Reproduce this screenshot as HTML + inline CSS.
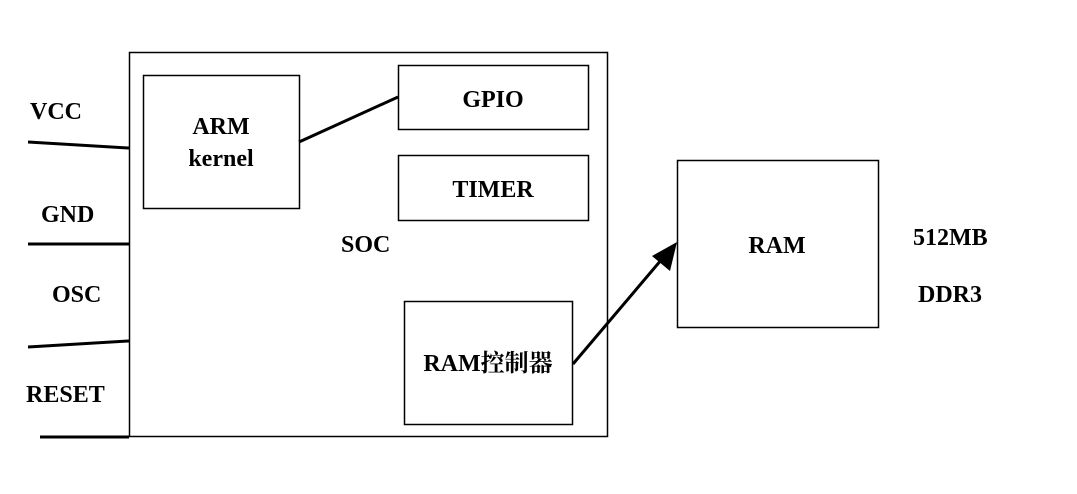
<!DOCTYPE html>
<html><head><meta charset="utf-8"><style>
body{margin:0;background:#fff;}
svg text{font-family:"Liberation Serif","Noto Serif CJK SC",serif;font-weight:bold;font-size:24px;fill:#000;}
</style></head><body>
<svg width="1077" height="489" xmlns="http://www.w3.org/2000/svg">
<defs><marker id="a" markerWidth="10" markerHeight="10" refX="9" refY="5" orient="auto" markerUnits="userSpaceOnUse" viewBox="0 0 10 10"><path d="M0,0 L10,5 L0,10 z" fill="#000"/></marker></defs>
<g fill="none" stroke="#000" stroke-width="1.5">
<rect x="129.5" y="52.5" width="478" height="384"/>
<rect x="143.5" y="75.5" width="156" height="133"/>
<rect x="398.5" y="65.5" width="190" height="64"/>
<rect x="398.5" y="155.5" width="190" height="65"/>
<rect x="404.5" y="301.5" width="168" height="123"/>
<rect x="677.5" y="160.5" width="201" height="167"/>
</g>
<g stroke="#000" stroke-width="3">
<line x1="28" y1="142" x2="129" y2="148"/>
<line x1="28" y1="244" x2="129" y2="244"/>
<line x1="28" y1="347" x2="129" y2="341"/>
<line x1="40" y1="437" x2="129" y2="437"/>
<line x1="299" y1="142" x2="398" y2="97"/>
</g>
<line x1="573" y1="364" x2="662" y2="259" stroke="#000" stroke-width="3"/>
<path d="M677,242 L670,271 L652,256 Z" fill="#000"/>
<text x="30" y="119">VCC</text>
<text x="41" y="222">GND</text>
<text x="52" y="302">OSC</text>
<text x="26" y="402">RESET</text>
<text x="221" y="134" text-anchor="middle">ARM</text>
<text x="221" y="166" text-anchor="middle">kernel</text>
<text x="493" y="107" text-anchor="middle">GPIO</text>
<text x="493" y="197" text-anchor="middle">TIMER</text>
<text x="341" y="252">SOC</text>
<text x="488" y="371" text-anchor="middle">RAM控制器</text>
<text x="777" y="253" text-anchor="middle">RAM</text>
<text x="913" y="245">512MB</text>
<text x="918" y="302">DDR3</text>
</svg>
</body></html>
